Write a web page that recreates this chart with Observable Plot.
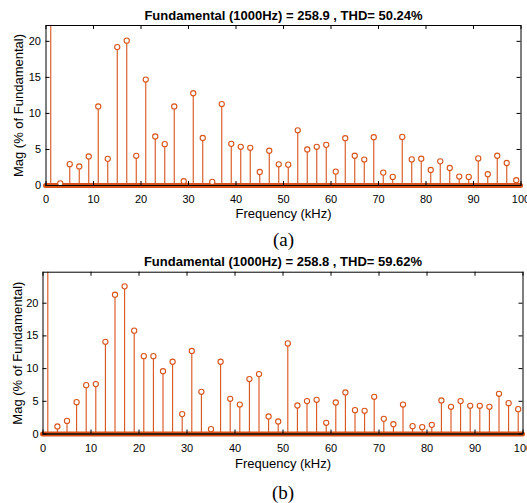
<!DOCTYPE html>
<html><head><meta charset="utf-8">
<script src="https://cdn.jsdelivr.net/npm/d3@7"></script>
<script src="https://cdn.jsdelivr.net/npm/@observablehq/plot@0.6"></script>
<style>body{margin:0;background:#fff} #chart svg{display:block}</style>
</head><body><div id="chart"></div>
<script>
// Harmonic frequencies (kHz)
const harmonics = [1,3,5,7,9,11,13,15,17,19,21,23,25,27,29,31,33,35,37,39,41,43,45,47,49,
  51,53,55,57,59,61,63,65,67,69,71,73,75,77,79,81,83,85,87,89,91,93,95,97,99];
// (a) magnitudes, % of fundamental
const magA = [100,0.3,2.96,2.64,4.03,10.97,3.70,19.2,20.1,4.12,14.7,6.8,5.74,10.97,0.6,12.8,6.6,0.5,11.3,5.78,
  5.37,5.23,1.88,4.82,2.94,2.89,7.66,5.0,5.37,5.64,1.93,6.56,4.13,3.6,6.7,1.79,1.19,6.74,3.62,3.72,
  2.16,3.35,2.43,1.24,1.19,3.76,1.56,4.13,3.12,0.73];
// (b) magnitudes, % of fundamental
const magB = [100,1.15,2.0,4.87,7.47,7.63,14.1,21.3,22.58,15.8,11.9,11.9,9.6,11.05,3.04,12.7,6.45,0.74,11.05,5.38,
  4.5,8.4,9.16,2.68,1.91,13.85,4.36,5.03,5.23,1.71,4.82,6.35,3.65,3.55,5.69,2.32,1.5,4.5,1.2,1.05,
  1.4,5.13,4.16,5.03,4.31,4.31,4.16,6.15,4.72,3.8];
const xTicks = [0,10,20,30,40,50,60,70,80,90,100];
const yTicks = [0,5,10,15,20];
const titleA = "Fundamental (1000Hz) = 258.9 , THD= 50.24%";
const titleB = "Fundamental (1000Hz) = 258.8 , THD= 59.62%";
const xLabel = "Frequency (kHz)";
const yLabel = "Mag (% of Fundamental)";

const ORANGE = "#D95319";

function makePlot(c) {
  const data = harmonics.map((f, i) => ({f, v: c.mag[i]}));
  const plotH = c.height - c.mt - c.mb;
  const plotW = 527 - c.ml - c.mr;
  return Plot.plot({
    width: 527, height: c.height,
    marginLeft: c.ml, marginRight: c.mr, marginTop: c.mt, marginBottom: c.mb,
    x: {domain: [0, 100]},
    y: {domain: [0, c.ymax]},
    style: {fontFamily: "'Liberation Sans', Arial, sans-serif", fontSize: "11px", color: "black", background: "white"},
    marks: [
      Plot.ruleX(data, {x: "f", y1: 0, y2: "v", stroke: ORANGE, strokeWidth: 1.1, clip: true}),
      Plot.ruleY([0], {stroke: ORANGE, strokeWidth: 5, strokeLinecap: "round"}),
      Plot.ruleY([0], {stroke: "#222", strokeWidth: 1}),
      Plot.dot(data, {x: "f", y: "v", r: 2.6, stroke: ORANGE, fill: "white", strokeWidth: 1.1, filter: d => d.v <= c.ymax}),
      Plot.frame({stroke: "black"}),
      Plot.tickX(xTicks, {x: d => d, stroke: "black", insetTop: plotH - 4}),
      Plot.tickX(xTicks, {x: d => d, stroke: "black", insetBottom: plotH - 4}),
      Plot.tickY(yTicks, {y: d => d, stroke: "black", insetRight: plotW - 4}),
      Plot.tickY(yTicks, {y: d => d, stroke: "black", insetLeft: plotW - 4}),
      Plot.axisX(xTicks, {tickSize: 0, tickPadding: c.xpad, label: null, fontSize: 11}),
      Plot.axisY(yTicks, {tickSize: 0, tickPadding: c.ypad, label: null, fontSize: 11}),
      Plot.text([c.title], {text: d => d, frameAnchor: "top", dy: c.tdy, fontWeight: "bold", fontSize: 13, lineAnchor: "middle"}),
      Plot.text([xLabel], {text: d => d, frameAnchor: "bottom", dy: c.xldy, fontSize: 13, lineAnchor: "middle"}),
      Plot.text([yLabel], {text: d => d, frameAnchor: "left", dx: c.yldx, rotate: -90, fontSize: 13, textAnchor: "middle", lineAnchor: "middle"}),
      Plot.text([c.tag], {text: d => d, frameAnchor: "bottom", dy: c.tagdy, fontFamily: "'Liberation Serif', 'Times New Roman', serif", fontSize: 19, lineAnchor: "middle"})
    ]
  });
}

const chart = document.getElementById("chart");
chart.append(makePlot({mag: magA, ymax: 22.2, height: 250, ml: 45.5, mr: 6.5, mt: 25, mb: 65,
  title: titleA, tag: "(a)", tdy: -10, xpad: 10, ypad: 5, xldy: 28.3, yldx: -27.5, tagdy: 54}));
chart.append(makePlot({mag: magB, ymax: 24.74, height: 253, ml: 42.5, mr: 4.5, mt: 21.7, mb: 69.5,
  title: titleB, tag: "(b)", tdy: -10.7, xpad: 10.5, ypad: 4.5, xldy: 29.8, yldx: -25.5, tagdy: 58.5}));
</script>
</body></html>
